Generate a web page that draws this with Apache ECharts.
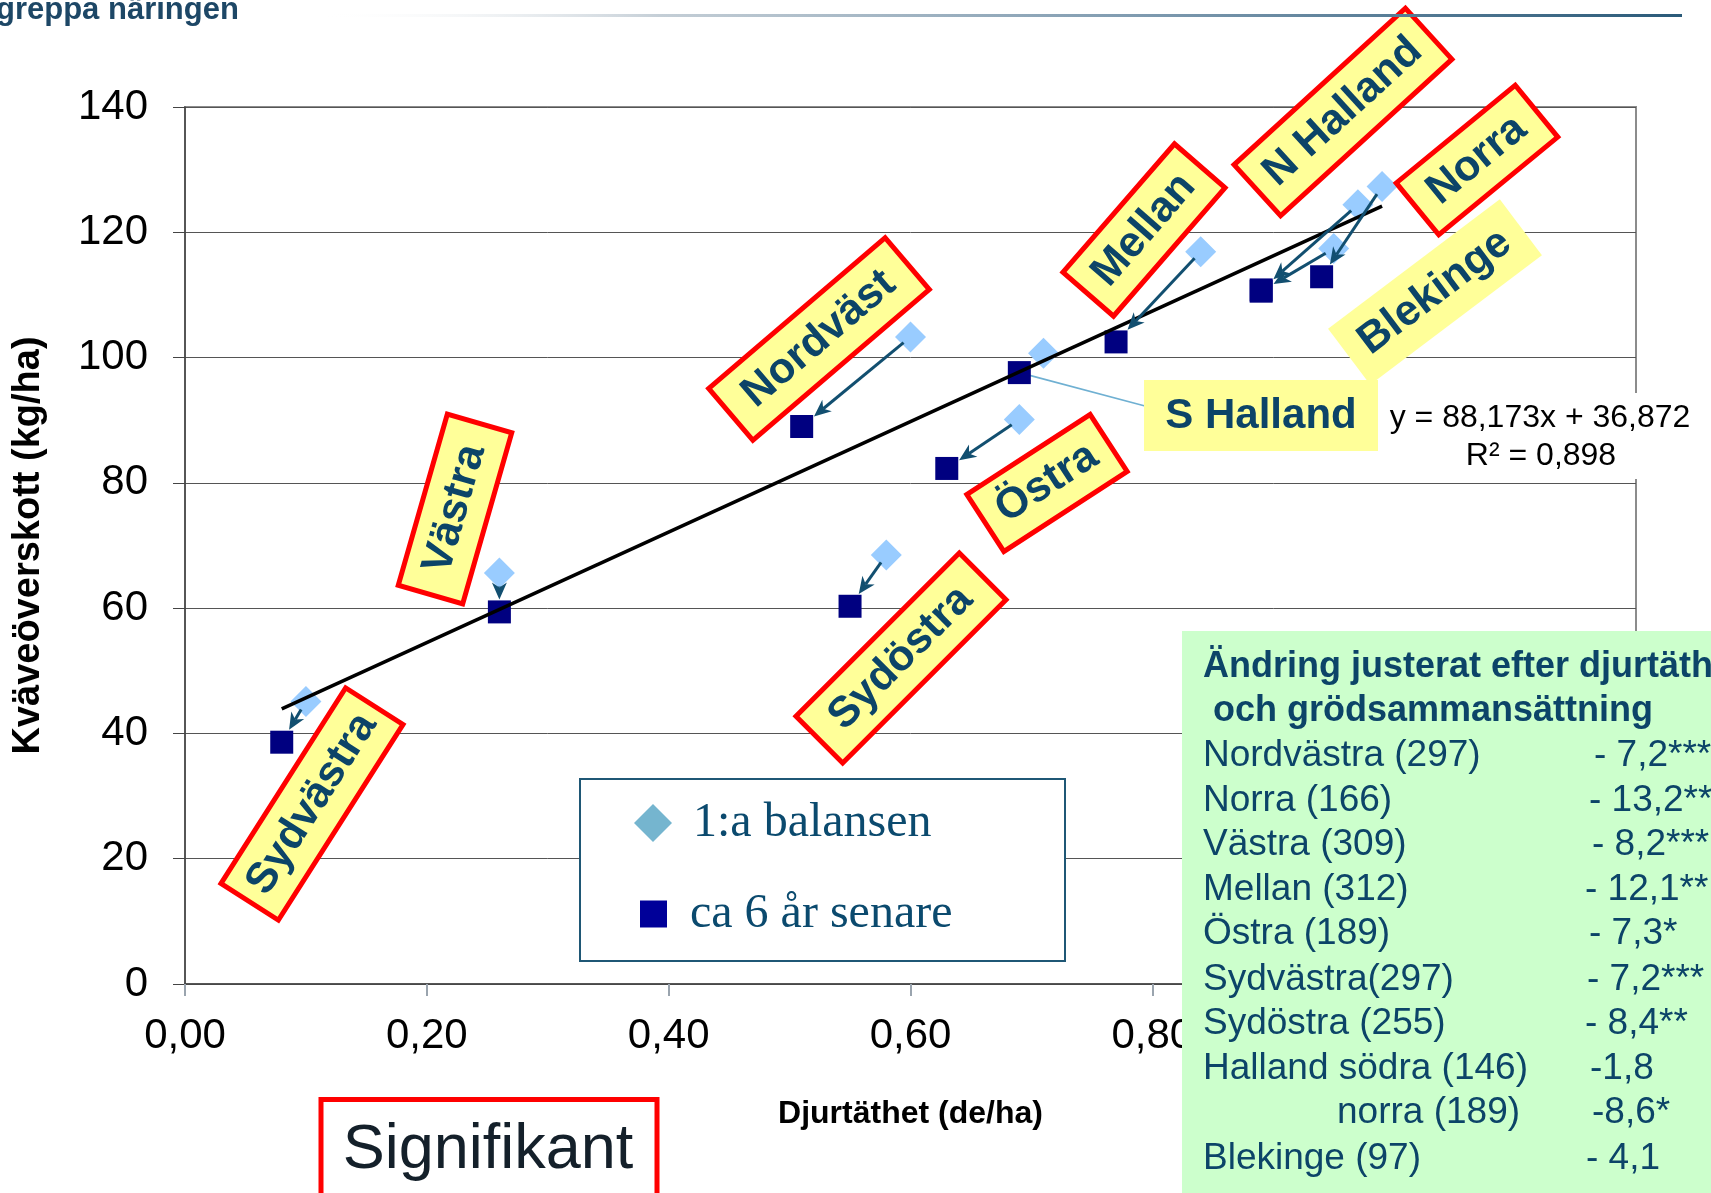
<!DOCTYPE html>
<html><head><meta charset="utf-8">
<script src="https://cdn.jsdelivr.net/npm/echarts@6/dist/echarts.min.js"></script>
<style>html,body{margin:0;padding:0;background:#fff;}#c{width:1711px;height:1193px;}</style>
</head><body><div id="c"></div>
<script>
// ---------- data ----------
const regions = ['Sydvästra','Västra','Nordväst','Sydöstra','Östra','S Halland','Mellan','N Halland','Norra','Blekinge'];
const firstX  = [0.10, 0.26, 0.60, 0.58, 0.69, 0.71, 0.84, 0.97, 0.99, 0.95];
const firstY  = [45.1, 65.6, 103.3, 68.5, 90.1, 100.7, 116.9, 124.4, 127.3, 117.4];
const laterX  = [0.08, 0.26, 0.51, 0.55, 0.63, 0.69, 0.77, 0.89, 0.94, 0.89];
const laterY  = [38.6, 59.4, 89.0, 60.3, 82.3, 97.6, 102.5, 110.8, 112.9, 110.6];
const hasArrow = [true, true, true, true, true, false, true, true, true, true];
const trendSlope = 88.173;
const trendIntercept = 36.872;
const trendText = ['y = 88,173x + 36,872', 'R² = 0,898'];
const seriesNames = ['1:a balansen', 'ca 6 år senare'];
const tableTitle = ['Ändring justerat efter djurtäthet', ' och grödsammansättning'];
const tableRegions = ['Nordvästra (297)','Norra (166)','Västra (309)','Mellan (312)','Östra (189)','Sydvästra(297)','Sydöstra (255)','Halland södra (146)','norra (189)','Blekinge (97)'];
const tableChanges = ['- 7,2***','- 13,2**','- 8,2***','- 12,1**','- 7,3*','- 7,2***','- 8,4**','-1,8','-8,6*','- 4,1'];
const xAxisTitle = 'Djurtäthet (de/ha)';
const yAxisTitle = 'Kväveöverskott (kg/ha)';
const brandText = 'greppa näringen';
const noteText = 'Signifikant';

// ---------- layout / style ----------
const TEAL = '#0c4468';
const ARROW = '#124f70';
// label tags: [cx, cy, w, h, angleDeg, bordered]
const tagLayout = {
  'Sydvästra': [312, 804, 232, 68, 57.5, true],
  'Västra':    [455, 509, 178, 67, 74, true],
  'Nordväst':  [819, 339, 232, 68, 40.5, true],
  'Sydöstra':  [901, 658, 231, 66, 45, true],
  'Östra':     [1047, 483, 147, 68, 33, true],
  'Mellan':    [1144, 230, 170, 67, 49, true],
  'N Halland': [1343, 112, 232, 69, 42.4, true],
  'Norra':     [1477, 160, 154, 67, 39.4, true],
  'Blekinge':  [1435, 292, 215, 70, 37, false]
};
const tableRowY = [756, 801, 845, 890, 934, 980, 1024, 1069, 1113, 1159];
const tableValX = [1594, 1589, 1592, 1585, 1589, 1587, 1585, 1590, 1592, 1586];

const chart = echarts.init(document.getElementById('c'), null, {renderer: 'canvas'});

const firstData = firstX.map((x, i) => [x, firstY[i]]);
const laterData = laterX.map((x, i) => [x, laterY[i]]);
const arrowData = [];
hasArrow.forEach((a, i) => { if (a) arrowData.push([firstX[i], firstY[i], laterX[i], laterY[i]]); });
const allX = firstX.concat(laterX);
const tMin = Math.min.apply(null, allX), tMax = Math.max.apply(null, allX);
const trendData = [[tMin, trendSlope * tMin + trendIntercept], [tMax, trendSlope * tMax + trendIntercept]];

const DIA = 31, SQ = 23;

function arrowRender(params, api) {
  const p0 = api.coord([api.value(0), api.value(1)]);
  const p1 = api.coord([api.value(2), api.value(3)]);
  const dx = p1[0] - p0[0], dy = p1[1] - p0[1];
  const len = Math.sqrt(dx * dx + dy * dy);
  const ux = dx / len, uy = dy / len;
  const sGap = (DIA / 2) / (Math.abs(ux) + Math.abs(uy)) - 2;
  const eGap = (SQ / 2) / Math.max(Math.abs(ux), Math.abs(uy)) + 1;
  const s = [p0[0] + ux * sGap, p0[1] + uy * sGap];
  const tip = [p1[0] - ux * eGap, p1[1] - uy * eGap];
  const hl = 17, hw = 7.5;
  const base = [tip[0] - ux * hl, tip[1] - uy * hl];
  const notch = [base[0] + ux * 5, base[1] + uy * 5];
  const L = [base[0] - uy * hw, base[1] + ux * hw];
  const R = [base[0] + uy * hw, base[1] - ux * hw];
  return {
    type: 'group',
    children: [
      {type: 'line', shape: {x1: s[0], y1: s[1], x2: notch[0], y2: notch[1]}, style: {stroke: ARROW, lineWidth: 3}},
      {type: 'polygon', shape: {points: [tip, L, notch, R]}, style: {fill: ARROW}}
    ]
  };
}

const option = {
  backgroundColor: '#ffffff',
  animation: false,
  grid: {left: 185, right: 75, top: 107, bottom: 209, show: true, borderColor: '#8c8c8c', borderWidth: 2, backgroundColor: 'transparent'},
  xAxis: {
    type: 'value', min: 0, max: 1.2, interval: 0.2,
    name: xAxisTitle, nameLocation: 'middle', nameGap: 114,
    nameTextStyle: {fontSize: 32, fontWeight: 'bold', color: '#000', fontFamily: 'Liberation Sans'},
    axisLine: {show: true, onZero: false, lineStyle: {color: '#444', width: 1.5}},
    axisTick: {show: true, length: 12, lineStyle: {color: '#9aa4ae', width: 2}},
    axisLabel: {fontSize: 42, color: '#000', margin: 31, fontFamily: 'Liberation Sans',
      formatter: v => v.toFixed(2).replace('.', ',')},
    splitLine: {show: false}
  },
  yAxis: {
    type: 'value', min: 0, max: 140, interval: 20,
    name: yAxisTitle, nameLocation: 'middle', nameGap: 137,
    nameTextStyle: {fontSize: 38, fontWeight: 'bold', color: '#000', fontFamily: 'Liberation Sans'},
    axisLine: {show: true, onZero: false, lineStyle: {color: '#444', width: 1.5}},
    axisTick: {show: true, length: 12, lineStyle: {color: '#444', width: 1}},
    axisLabel: {fontSize: 42, color: '#000', margin: 37, fontFamily: 'Liberation Sans'},
    splitLine: {show: true, lineStyle: {color: '#555', width: 1}}
  },
  legend: [
    {data: [{name: seriesNames[0], icon: 'diamond', itemStyle: {color: '#75b5cf'}}],
     left: 634, top: 799, itemWidth: 38, itemHeight: 38, padding: 0, selectedMode: false, z: 6,
     textStyle: {fontSize: 48, fontFamily: 'Liberation Serif', color: '#0b4a6e', padding: [0, 0, 0, 16]}},
    {data: [{name: seriesNames[1], icon: 'rect', itemStyle: {color: '#000099'}}],
     left: 640, top: 890, itemWidth: 27, itemHeight: 27, padding: 0, selectedMode: false, z: 6,
     textStyle: {fontSize: 48, fontFamily: 'Liberation Serif', color: '#0b4a6e', padding: [0, 0, 0, 18]}}
  ],
  series: [
    {name: seriesNames[0], type: 'scatter', symbol: 'diamond', symbolSize: DIA, data: firstData,
     itemStyle: {color: '#99ccff', opacity: 1}, z: 2},
    {name: seriesNames[1], type: 'scatter', symbol: 'rect', symbolSize: SQ, data: laterData,
     itemStyle: {color: '#000080', opacity: 1}, z: 2},
    {name: 'trend', type: 'line', data: trendData, showSymbol: false, symbol: 'none',
     lineStyle: {color: '#000', width: 3.5}, z: 4, silent: true},
    {name: 'arrows', type: 'custom', renderItem: arrowRender, data: arrowData,
     encode: {x: [0, 2], y: [1, 3]}, z: 5, silent: true}
  ]
};
chart.setOption(option);

// ---------- annotations (graphic) ----------
const g = [];
// brand header
g.push({type: 'text', x: -4, y: 26, z: 30, style: {text: brandText, fontSize: 31, fontWeight: 'bold', fontFamily: 'Liberation Sans', fill: '#1d4766', textVerticalAlign: 'bottom', verticalAlign: 'bottom'}});
g.push({type: 'rect', shape: {x: 320, y: 14, width: 1362, height: 3}, z: 30,
  style: {fill: new echarts.graphic.LinearGradient(0, 0, 1, 0, [{offset: 0, color: 'rgba(255,255,255,0)'}, {offset: 0.25, color: '#c4ced6'}, {offset: 0.6, color: '#7f9bb0'}, {offset: 1, color: '#2a5a79'}])}});

// callout line from S Halland square to its label
const shIdx = regions.indexOf('S Halland');
const shPt = chart.convertToPixel({seriesIndex: 1}, [laterX[shIdx], laterY[shIdx]]);
g.push({type: 'line', z: 1, shape: {x1: shPt[0], y1: shPt[1], x2: 1145, y2: 406}, style: {stroke: '#6fb0d2', lineWidth: 1.6}});

// rotated tags
regions.forEach(r => {
  const t = tagLayout[r];
  if (!t) return;
  g.push({type: 'group', x: t[0], y: t[1], rotation: t[4] * Math.PI / 180, z: 10, children: [
    {type: 'rect', z: 10, shape: {x: -t[2] / 2, y: -t[3] / 2, width: t[2], height: t[3]},
     style: {fill: '#ffff99', stroke: t[5] ? '#ff0000' : null, lineWidth: t[5] ? 5 : 0}},
    {type: 'text', z: 11, x: 0, y: 0, style: {text: r, fontSize: 43, fontWeight: 'bold', fontFamily: 'Liberation Sans', fill: TEAL,
      textAlign: 'center', align: 'center', textVerticalAlign: 'middle', verticalAlign: 'middle'}}
  ]});
});
// S Halland (axis-aligned, no border)
g.push({type: 'rect', z: 12, shape: {x: 1144, y: 380, width: 234, height: 71}, style: {fill: '#ffff99'}});
g.push({type: 'text', z: 13, x: 1261, y: 416, style: {text: 'S Halland', fontSize: 42, fontWeight: 'bold', fontFamily: 'Liberation Sans', fill: TEAL,
  textAlign: 'center', align: 'center', textVerticalAlign: 'middle', verticalAlign: 'middle'}});

// trendline equation
g.push({type: 'rect', z: 12, shape: {x: 1384, y: 393, width: 312, height: 86}, style: {fill: '#ffffff'}});
g.push({type: 'text', z: 13, x: 1540, y: 418, style: {text: trendText[0], fontSize: 32, fontFamily: 'Liberation Sans', fill: '#000',
  textAlign: 'center', align: 'center', textVerticalAlign: 'middle', verticalAlign: 'middle'}});
g.push({type: 'text', z: 13, x: 1541, y: 456, style: {text: trendText[1], fontSize: 32, fontFamily: 'Liberation Sans', fill: '#000',
  textAlign: 'center', align: 'center', textVerticalAlign: 'middle', verticalAlign: 'middle'}});

// legend box
g.push({type: 'rect', z: 3, shape: {x: 580, y: 779, width: 485, height: 182}, style: {fill: '#ffffff', stroke: '#1f5775', lineWidth: 2}});

// green table
g.push({type: 'rect', z: 20, shape: {x: 1182, y: 631, width: 560, height: 600}, style: {fill: '#ccffcc'}});
g.push({type: 'text', z: 21, x: 1203, y: 667, style: {text: tableTitle[0], fontSize: 36, fontWeight: 'bold', fontFamily: 'Liberation Sans', fill: TEAL, textVerticalAlign: 'middle', verticalAlign: 'middle'}});
g.push({type: 'text', z: 21, x: 1203, y: 711, style: {text: tableTitle[1], fontSize: 36, fontWeight: 'bold', fontFamily: 'Liberation Sans', fill: TEAL, textVerticalAlign: 'middle', verticalAlign: 'middle'}});
tableRegions.forEach((name, i) => {
  const indent = name.startsWith('norra') ? 1337 : 1203;
  g.push({type: 'text', z: 21, x: indent, y: tableRowY[i], style: {text: name, fontSize: 37, fontFamily: 'Liberation Sans', fill: TEAL, textVerticalAlign: 'middle', verticalAlign: 'middle'}});
  g.push({type: 'text', z: 21, x: tableValX[i], y: tableRowY[i], style: {text: tableChanges[i], fontSize: 37, fontFamily: 'Liberation Sans', fill: TEAL, textVerticalAlign: 'middle', verticalAlign: 'middle'}});
});

// "Signifikant" note
g.push({type: 'rect', z: 20, shape: {x: 321, y: 1099.5, width: 336, height: 110}, style: {fill: '#ffffff', stroke: '#ff0000', lineWidth: 5}});
g.push({type: 'text', z: 21, x: 488, y: 1151, style: {text: noteText, fontSize: 63, fontFamily: 'Liberation Sans', fill: '#14202a',
  textAlign: 'center', align: 'center', textVerticalAlign: 'middle', verticalAlign: 'middle'}});

chart.setOption({graphic: {elements: g}});
</script>
</body></html>
